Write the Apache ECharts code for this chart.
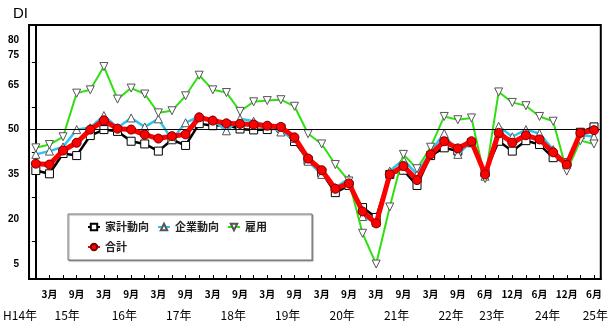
<!DOCTYPE html>
<html>
<head>
<meta charset="utf-8">
<script src="https://cdn.jsdelivr.net/npm/echarts@6/dist/echarts.min.js"></script>
<style>
  html, body { margin: 0; padding: 0; background: #fff; }
  #chart { width: 611px; height: 330px; }
</style>
</head>
<body>
<div id="chart"></div>
<script>
// Survey periods (Heisei year.month); the March 2011 survey is absent.
const periods = [
  'H14.12', 'H15.3', 'H15.6', 'H15.9', 'H15.12', 'H16.3', 'H16.6', 'H16.9', 'H16.12',
  'H17.3', 'H17.6', 'H17.9', 'H17.12', 'H18.3', 'H18.6', 'H18.9', 'H18.12',
  'H19.3', 'H19.6', 'H19.9', 'H19.12', 'H20.3', 'H20.6', 'H20.9', 'H20.12',
  'H21.3', 'H21.6', 'H21.9', 'H21.12', 'H22.3', 'H22.6', 'H22.9', 'H22.12',
  'H23.6', 'H23.9', 'H23.12', 'H24.3', 'H24.6', 'H24.9', 'H24.12', 'H25.3', 'H25.6'
];

// 家計動向
const household = [
  36.3, 35.2, 42.0, 41.3, 48.0, 50.0, 49.4, 46.1, 45.2, 42.8, 46.6, 44.7, 52.0, 51.3,
  51.6, 50.2, 49.9, 50.0, 50.5, 46.0, 39.7, 35.6, 28.9, 31.3, 23.9, 20.6, 35.0, 36.4,
  31.3, 41.3, 43.9, 42.8, 45.6, 35.6, 46.1, 42.8, 46.3, 45.0, 40.6, 38.9, 49.1, 50.9
];
// 企業動向
const corporate = [
  41.7, 42.8, 44.2, 50.0, 50.6, 54.7, 50.6, 53.9, 50.9, 53.6, 46.7, 52.3, 54.3, 53.3,
  49.6, 53.6, 52.8, 51.3, 49.2, 47.0, 39.4, 35.0, 30.6, 33.6, 20.9, 18.9, 36.1, 40.0,
  35.0, 42.8, 48.7, 41.7, 46.1, 34.4, 51.1, 47.6, 50.0, 48.7, 43.3, 38.3, 48.3, 47.6
];
// 雇用
const employment = [
  43.9, 45.0, 47.6, 62.2, 63.3, 71.1, 60.2, 63.9, 61.9, 55.6, 56.3, 61.3, 68.2, 63.3,
  62.4, 56.1, 59.3, 59.7, 60.0, 57.8, 48.6, 45.2, 38.3, 32.8, 15.3, 5.0, 24.1, 41.7,
  36.9, 44.1, 54.4, 53.3, 53.9, 33.6, 62.6, 59.1, 58.0, 54.4, 52.8, 36.1, 46.3, 45.2
];
// 合計
const total = [
  38.6, 38.3, 43.0, 45.6, 50.0, 53.1, 50.3, 50.0, 48.3, 47.0, 47.8, 48.4, 54.1, 53.0,
  52.1, 51.9, 51.7, 51.3, 50.9, 47.4, 40.3, 36.4, 30.2, 32.0, 22.6, 18.6, 35.0, 37.8,
  33.1, 41.7, 46.1, 43.7, 46.1, 35.0, 48.9, 45.6, 48.1, 46.7, 42.4, 38.3, 48.9, 49.8
];

// Value-axis labels and ticks
const yLabelValues = [5, 20, 35, 50, 65, 75, 80];
const yTickValues = [12.5, 27.5, 42.5, 57.5, 72.5];

// Year captions, placed along the period index scale
const yearLabels = ['H14年', '15年', '16年', '17年', '18年', '19年', '20年', '21年', '22年', '23年', '24年', '25年'];
const yearPositions = [-0.5, 2.3, 6.5, 10.5, 14.5, 18.5, 22.5, 26.5, 30.5, 33.5, 37.6, 41.1];

const chart = echarts.init(document.getElementById('chart'), null, { renderer: 'canvas' });

const baseFont = '"Liberation Sans", Arial, "Noto Sans CJK JP", sans-serif';
const jpFont = '"Noto Sans CJK JP", "Liberation Sans", sans-serif';

function lineSeries(name, data, opts) {
  return Object.assign({
    name: name,
    type: 'line',
    data: data,
    xAxisIndex: 0,
    yAxisIndex: 0,
    showAllSymbol: true,
    animation: false
  }, opts);
}

chart.setOption({
  animation: false,
  backgroundColor: '#fff',
  title: {
    text: 'DI',
    left: 8,
    top: 1,
    textStyle: { fontFamily: baseFont, fontSize: 15, fontWeight: 'normal', color: '#000' }
  },
  grid: {
    left: 29, right: 9, top: 25, bottom: 51,
    show: true, borderColor: '#000', borderWidth: 2, backgroundColor: 'transparent'
  },
  legend: {
    left: 68, top: 214,
    width: 190,
    padding: [7, 45, 7, 19],
    itemGap: 8,
    itemWidth: 12, itemHeight: 8,
    backgroundColor: '#fff',
    borderColor: '#777', borderWidth: 1,
    shadowColor: 'rgba(0,0,0,0.35)', shadowOffsetX: 1, shadowOffsetY: 1, shadowBlur: 1,
    textStyle: { fontFamily: jpFont, fontSize: 11, fontWeight: 'bold', color: '#222', lineHeight: 12 },
    data: ['家計動向', '企業動向', '雇用', '合計']
  },
  xAxis: [
    {
      type: 'category',
      data: periods,
      boundaryGap: true,
      axisLine: { show: true, lineStyle: { color: '#000', width: 2 } },
      axisTick: { show: true, inside: true, alignWithLabel: true, interval: 0, length: 4, lineStyle: { color: '#000', width: 1 } },
      axisLabel: {
        interval: function (i) { return i % 2 === 1; },
        formatter: function (v) { return v.split('.')[1] + '月'; },
        margin: 10,
        fontFamily: jpFont, fontSize: 10, fontWeight: 'bold', color: '#000'
      },
      splitLine: { show: false }
    },
    {
      type: 'value',
      position: 'bottom',
      min: -0.5, max: 41.5,
      axisLine: { show: false },
      axisTick: { show: false },
      splitLine: { show: false },
      axisLabel: {
        customValues: yearPositions,
        margin: 30,
        formatter: function (v) {
          const k = yearPositions.indexOf(v);
          const txt = k >= 0 ? yearLabels[k] : '';
          return k === 0 ? '{first|' + txt + '}' : txt;
        },
        rich: { first: { padding: [0, 18, 0, 0], fontFamily: jpFont, fontSize: 12, color: '#000' } },
        fontFamily: jpFont, fontSize: 12, color: '#000'
      }
    }
  ],
  yAxis: {
    type: 'value',
    min: 0, max: 85,
    axisLine: { show: true, lineStyle: { color: '#000', width: 2 } },
    axisTick: { show: true, customValues: yTickValues, length: 4, lineStyle: { color: '#000', width: 1 } },
    axisLabel: {
      customValues: yLabelValues,
      margin: 10,
      fontFamily: baseFont, fontSize: 10, fontWeight: 'bold', color: '#000'
    },
    splitLine: { show: false }
  },
  series: [
    lineSeries('家計動向', household, {
      symbol: 'rect', symbolSize: 8,
      lineStyle: { color: '#000', width: 2.5 },
      itemStyle: { color: '#fff', borderColor: '#000', borderWidth: 1 },
      z: 2,
      markLine: {
        silent: true, symbol: 'none', label: { show: false },
        lineStyle: { color: '#000', width: 1, type: 'solid' },
        data: [{ yAxis: 50 }],
        animation: false
      }
    }),
    lineSeries('企業動向', corporate, {
      symbol: 'triangle', symbolSize: 8,
      lineStyle: { color: '#2cc4f0', width: 2.5 },
      itemStyle: { color: '#fff', borderColor: '#555', borderWidth: 1 },
      z: 3
    }),
    lineSeries('雇用', employment, {
      symbol: 'triangle', symbolRotate: 180, symbolSize: 8,
      lineStyle: { color: '#2ee010', width: 2 },
      itemStyle: { color: '#fff', borderColor: '#555', borderWidth: 1 },
      z: 4
    }),
    lineSeries('合計', total, {
      symbol: 'circle', symbolSize: 9,
      lineStyle: { color: '#ff0000', width: 5 },
      itemStyle: { color: '#ff0000', borderColor: '#700', borderWidth: 1 },
      z: 5
    })
  ]
});
</script>
</body>
</html>
